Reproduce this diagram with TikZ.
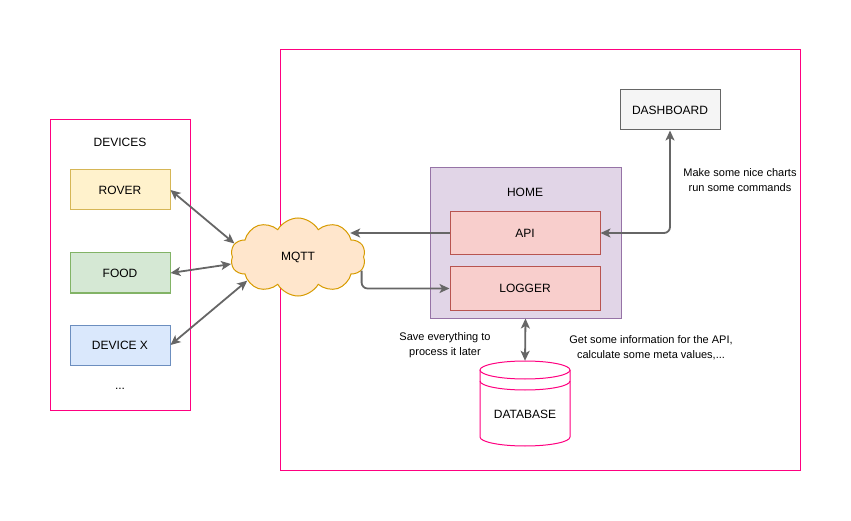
\documentclass[tikz,border=0pt]{standalone}
\usepackage{fontspec}
\setmainfont{Liberation Sans}
\usetikzlibrary{arrows.meta, positioning, calc, shapes.symbols}

\definecolor{pinkline}{HTML}{FF0080}
\definecolor{linkgray}{HTML}{666666}
\definecolor{yellowfill}{HTML}{FFF2CC}
\definecolor{yellowline}{HTML}{D6B656}
\definecolor{greenfill}{HTML}{D5E8D4}
\definecolor{greenline}{HTML}{82B366}
\definecolor{bluefill}{HTML}{DAE8FC}
\definecolor{blueline}{HTML}{6C8EBF}
\definecolor{orangefill}{HTML}{FFE6CC}
\definecolor{orangeline}{HTML}{D79B00}
\definecolor{purplefill}{HTML}{E1D5E7}
\definecolor{purpleline}{HTML}{9673A6}
\definecolor{redfill}{HTML}{F8CECC}
\definecolor{redline}{HTML}{B85450}
\definecolor{grayfill}{HTML}{F5F5F5}

\begin{document}
\begin{tikzpicture}[
    x=1pt, y=-1pt,
    every node/.style={font=\fontsize{12}{14}\selectfont, inner sep=0pt},
    container/.style={rectangle, draw=pinkline, line width=1pt},
    device/.style={rectangle, draw, line width=1pt, minimum width=100pt, minimum height=40pt},
    service/.style={rectangle, draw=redline, fill=redfill, line width=1pt, minimum width=150pt, minimum height=43pt},
    link/.style={>={Stealth[length=10pt, width=9pt, inset=2.5pt]}, draw=linkgray, line width=1.8pt},
    note/.style={align=center, font=\fontsize{11}{15}\selectfont}
]
\useasboundingbox (0,0) rectangle (851,521);

% Containers
\node[container, minimum width=140pt, minimum height=290pt] (devices) at (120,265) {};
\node[container, minimum width=520pt, minimum height=420pt] (server) at (540,260) {};
\node[rectangle, draw=purpleline, fill=purplefill, line width=1pt,
      minimum width=191pt, minimum height=150pt] (home) at (525.5,243) {};
\node at (120,142) {DEVICES};
\node at (525,192) {HOME};

% Devices
\node[device, draw=yellowline, fill=yellowfill] (rover) at (120,190) {ROVER};
\node[device, draw=greenline, fill=greenfill] (food) at (120,273) {FOOD};
\node[device, draw=blueline, fill=bluefill] (devx) at (120,345) {DEVICE X};
\node at (120,389) {...};

% Broker
\node[cloud, cloud puffs=10, cloud puff arc=120, cloud ignores aspect, draw=orangeline,
      fill=orangefill, line width=1pt, minimum width=135pt, minimum height=78pt] (mqtt) at (298,257) {MQTT};

% Home services
\node[service] (api) at (525,233) {API};
\node[service] (logger) at (525,288.5) {LOGGER};
\node[rectangle, draw=linkgray, fill=grayfill, line width=1pt,
      minimum width=100pt, minimum height=40pt] (dash) at (670,110) {DASHBOARD};

% Database
\node[minimum width=90pt, minimum height=85pt] (db) at (525,403.5) {};
\draw[pinkline, line width=1pt, fill=white] ($(db.center)+(-45,-33.5)$) -- ($(db.center)+(-45,33.5)$)
    arc[start angle=180, end angle=360, x radius=45pt, y radius=9pt] -- ($(db.center)+(45,-33.5)$);
\draw[pinkline, line width=1pt, fill=white] ($(db.center)+(0,-33.5)$) ellipse [x radius=45pt, y radius=9pt];
\draw[pinkline, line width=1pt] ($(db.center)+(-45,-22.5)$) arc[start angle=180, end angle=360, x radius=45pt, y radius=9pt];
\node (dblabel) at (525,414) {DATABASE};

% Connections
\draw[link, <->] (rover.east) -- (mqtt.168);
\draw[link, <->] (food.east) -- (mqtt.186);
\draw[link, <->] (devx.east) -- (mqtt.205);
\draw[link, ->] (api.west) -- (api.west -| mqtt.22);
\draw[link, ->, rounded corners=6pt] (mqtt.-12) |- (logger.west);
\draw[link, <->, rounded corners=6pt] (api.east) -| (dash.south);
\draw[link, <->] (home.south) -- (db.north);

% Notes
\node[note] at (740,180) {Make some nice charts\\run some commands};
\node[note] at (445,345) {Save everything to\\process it later};
\node[note] at (651,348) {Get some information for the API,\\calculate some meta values,...};

\end{tikzpicture}
\end{document}
